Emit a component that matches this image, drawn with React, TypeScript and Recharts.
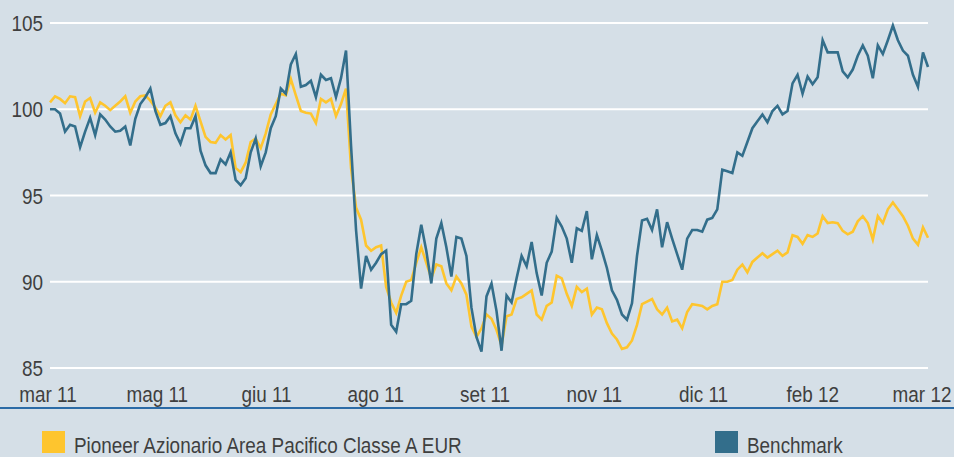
import { LineChart, Line, XAxis, YAxis, CartesianGrid } from 'recharts'

const monthLabels = ['mar 11', 'mag 11', 'giu 11', 'ago 11', 'set 11', 'nov 11', 'dic 11', 'feb 12', 'mar 12']
const yTicks = [85, 90, 95, 100, 105]

const fundName = 'Pioneer Azionario Area Pacifico Classe A EUR'
const benchName = 'Benchmark'

const fund = [
  100.4, 100.75, 100.6, 100.35, 100.75, 100.7, 99.6, 100.45, 100.65, 99.8,
  100.4, 100.2, 99.95, 100.2, 100.45, 100.75, 99.8, 100.45, 100.75, 100.8,
  100.5, 100.1, 99.6, 100.2, 100.4, 99.65, 99.25, 99.65, 99.4, 100.2,
  99.3, 98.4, 98.1, 98.05, 98.5, 98.25, 98.5, 96.6, 96.35, 96.9,
  98.1, 98.3, 97.75, 98.6, 99.7, 100.3, 100.9, 100.8, 101.75, 100.8,
  99.9, 99.8, 99.75, 99.2, 100.6, 100.4, 100.6, 99.6, 100.3, 101.2,
  96.6, 94.3, 93.6, 92.1, 91.8, 92.0, 92.1, 89.7, 88.8, 88.2,
  89.2, 90.0, 90.1, 91.1, 92.0, 91.1, 90.2, 91.0, 90.9, 89.9,
  89.5, 90.3, 89.9, 89.25, 87.4, 86.8, 87.3, 88.1, 87.85, 87.2,
  86.3, 88.0, 88.1, 89.0, 89.1, 89.3, 89.5, 88.1, 87.8, 88.6,
  88.8, 90.35, 90.2, 89.3, 88.6, 89.7, 89.4, 89.6, 88.1, 88.5,
  88.4, 87.6, 87.0, 86.65, 86.1, 86.2, 86.6, 87.5, 88.7, 88.85,
  89.0, 88.4, 88.1, 88.5, 87.7, 87.8, 87.3, 88.25, 88.7, 88.65,
  88.6, 88.4, 88.6, 88.7, 90.0, 90.0, 90.1, 90.7, 91.0, 90.55,
  91.15, 91.4, 91.65, 91.4, 91.6, 91.8, 91.5, 91.7, 92.7, 92.6,
  92.2, 92.7, 92.6, 92.8, 93.8, 93.4, 93.45, 93.4, 92.95, 92.75,
  92.9, 93.5, 93.8, 93.4, 92.45, 93.8, 93.4, 94.2, 94.6, 94.2,
  93.8, 93.25, 92.5, 92.15, 93.15, 92.55,
]

const benchmark = [
  100.0, 100.0, 99.75, 98.7, 99.1, 99.0, 97.8, 98.7, 99.5, 98.5,
  99.7, 99.4, 99.0, 98.7, 98.75, 99.0, 97.9, 99.45, 100.3, 100.7,
  101.2, 99.9, 99.1, 99.2, 99.6, 98.6, 98.0, 98.9, 98.9, 99.6,
  97.6, 96.75, 96.3, 96.3, 97.1, 96.8, 97.5, 95.9, 95.6, 96.0,
  97.5, 98.3, 96.7, 97.5, 98.9, 99.6, 101.2, 100.9, 102.6, 103.2,
  101.3, 101.4, 101.65, 100.7, 102.0, 101.7, 101.8, 100.7, 101.8, 103.4,
  97.9, 93.0, 89.6, 91.5, 90.7, 91.1, 91.6, 91.8, 87.5, 87.1,
  88.7, 88.7, 88.9, 91.6, 93.3, 91.8, 89.9, 92.5, 93.4, 92.0,
  90.3, 92.6, 92.5, 91.5, 88.5, 86.8, 85.95, 89.15, 89.9, 88.3,
  86.0, 89.2, 88.8, 90.2, 91.5, 90.9, 92.3, 90.5, 89.2, 91.1,
  91.75, 93.7, 93.2, 92.5, 91.1, 93.1, 92.95, 94.1, 91.3, 92.7,
  91.8, 90.8, 89.5, 88.95, 88.1, 87.8, 88.75, 91.5, 93.55, 93.65,
  93.0, 94.2, 92.0, 93.45, 92.5, 91.6, 90.7, 92.5, 93.0, 93.0,
  92.9, 93.6, 93.7, 94.2, 96.5, 96.4, 96.3, 97.5, 97.3, 98.1,
  98.9, 99.3, 99.7, 99.25, 99.9, 100.2, 99.7, 99.9, 101.5, 102.0,
  100.9, 101.9, 101.45, 101.85, 104.0, 103.3, 103.3, 103.3, 102.2, 101.85,
  102.3, 103.1, 103.7, 103.1, 101.8, 103.7, 103.2, 104.0, 104.85, 104.0,
  103.4, 103.1, 102.0, 101.3, 103.3, 102.45,
]

// no narrow font installed: squeeze Liberation Sans to look like Arial Narrow
const FONT = "'Liberation Sans', Arial, sans-serif"
const SQUEEZE = 0.86
const TEXT = '#3f3f3f'
const BG = '#d5dfe7'
const YELLOW = '#fec52e'
const BLUE = '#336e8b'

const rows = fund.map((f, i) => ({ i, fund: f, bench: benchmark[i] }))
const last = rows.length - 1
const xTicks = monthLabels.map((_, k) => (k * last) / (monthLabels.length - 1))

const XTick = ({ x, y, index }: any) => (
  <text
    transform={`translate(${x - 2 - index * 0.5},${y + 26}) scale(${SQUEEZE},1)`}
    textAnchor="middle"
    fill={TEXT}
    fontSize={22}
    fontFamily={FONT}
  >
    {monthLabels[index]}
  </text>
)

const YTick = ({ x, y, payload }: any) => (
  <text
    transform={`translate(${x + 1},${y + 8}) scale(${SQUEEZE},1)`}
    textAnchor="end"
    fill={TEXT}
    fontSize={22}
    fontFamily={FONT}
  >
    {payload.value}
  </text>
)

function Legend() {
  const items = [
    { color: YELLOW, label: fundName, left: 42 },
    { color: BLUE, label: benchName, left: 715 },
  ]
  return (
    <svg width={954} height={49} style={{ position: 'absolute', left: 0, top: 408 }}>
      {items.map((it) => (
        <g key={it.label}>
          <rect x={it.left} y={23} width={23} height={22} fill={it.color} />
          <text
            transform={`translate(${it.left + 32},45) scale(${SQUEEZE},1)`}
            fill={TEXT}
            fontSize={22}
            fontFamily={FONT}
          >
            {it.label}
          </text>
        </g>
      ))}
    </svg>
  )
}

export default function App() {
  return (
    <div style={{ position: 'absolute', left: 0, top: 0, width: 954, height: 457, background: BG, overflow: 'hidden' }}>
      <LineChart width={954} height={408} data={rows} margin={{ top: 23, right: 26, left: 0, bottom: 0 }}>
        <CartesianGrid vertical={false} stroke="#ffffff" strokeWidth={2} />
        <XAxis
          dataKey="i"
          type="number"
          domain={[0, last]}
          ticks={xTicks}
          interval={0}
          height={40}
          axisLine={false}
          tickLine={false}
          tick={<XTick />}
        />
        <YAxis
          domain={[85, 105]}
          ticks={yTicks}
          width={50}
          axisLine={false}
          tickLine={false}
          tick={<YTick />}
        />
        <Line type="linear" dataKey="fund" stroke={YELLOW} strokeWidth={2.6} dot={false} isAnimationActive={false} />
        <Line type="linear" dataKey="bench" stroke={BLUE} strokeWidth={2.6} dot={false} isAnimationActive={false} />
      </LineChart>
      <div style={{ position: 'absolute', left: 0, top: 407, width: 954, height: 2, background: '#2b6ba6' }} />
      <Legend />
    </div>
  )
}
